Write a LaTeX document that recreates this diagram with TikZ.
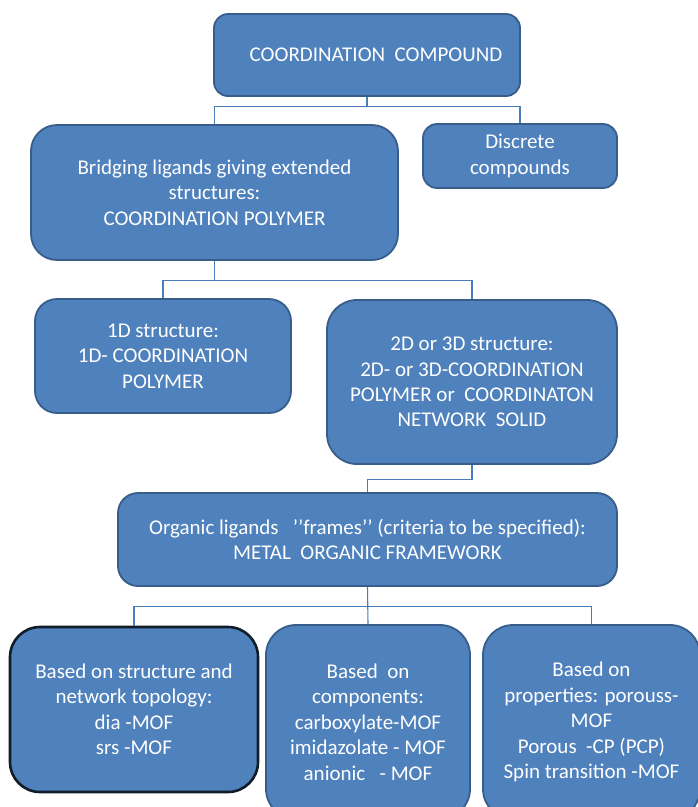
\documentclass[tikz,border=0pt]{standalone}
\usepackage{fontspec}
\setmainfont{Carlito}
\definecolor{boxfill}{HTML}{4F81BD}
\definecolor{boxline}{HTML}{385D8A}
\definecolor{conn}{HTML}{4A7EBB}
\begin{document}
\begin{tikzpicture}[x=1pt,y=-1pt,
  box/.style={draw=boxline, fill=boxfill, line width=1.8pt, text=white,
    align=center, inner sep=0pt, font=\fontsize{21}{25.5}\selectfont},
  conn/.style={draw=conn, line width=1.1pt}]
\clip (0,0) rectangle (698,807);
\fill[white] (0,0) rectangle (698,807);
\node[box, rounded corners=14pt, minimum width=306pt, minimum height=82pt] (b1) at (367,55)
  {\hspace*{18pt}COORDINATION\ \ COMPOUND};
\node[box, rounded corners=26pt, minimum width=367pt, minimum height=135pt] (b2) at (214.5,192.5)
  {Bridging ligands giving extended\\structures:\\COORDINATION POLYMER};
\node[box, rounded corners=14pt, minimum width=194pt, minimum height=64pt] (b3) at (520,156)
  {Discrete\\compounds};
\node[box, rounded corners=22pt, minimum width=256pt, minimum height=114pt] (b4) at (163,356)
  {1D structure:\\1D- COORDINATION\\POLYMER};
\node[box, rounded corners=30pt, minimum width=290pt, minimum height=164pt] (b5) at (472,382)
  {2D or 3D structure:\\2D- or 3D-COORDINATION\\POLYMER or\ \ COORDINATON\\NETWORK\ \ SOLID};
\node[box, rounded corners=20pt, minimum width=499pt, minimum height=93pt] (b6) at (367.5,539.5)
  {Organic ligands\ \ \ ’’frames’’ (criteria to be specified):\\METAL\ \ ORGANIC FRAMEWORK};
\node[box, draw=black!70!boxline, line width=2.6pt, rounded corners=30pt, minimum width=248pt, minimum height=165pt] (b7) at (134,709.5)
  {Based on structure and\\network topology:\\dia -MOF\\srs -MOF};
\node[box, rounded corners=30pt, minimum width=204pt, minimum height=194pt] (b8) at (368,722)
  {Based\ \ on\\components:\\carboxylate-MOF\\imidazolate - MOF\\anionic\ \ \ - MOF};
\node[box, rounded corners=30pt, minimum width=217pt, minimum height=194pt] (b9) at (591.5,722)
  {Based on\\properties: porouss-\\MOF\\Porous\ \ -CP (PCP)\\Spin transition -MOF};
\draw[conn] (b1.south) -- ++(0,10) coordinate (j1) -| (b2.north);
\draw[conn] (j1) -| (b3.north);
\draw[conn] (b2.south) -- ++(0,20) coordinate (j2) -| (b4.north);
\draw[conn] (j2) -| (b5.north);
\draw[conn] (b5.south) -- ++(0,15) -| (b6.north);
\draw[conn] (b6.south) -- ++(0,20) coordinate (j4) -| (b7.north);
\draw[conn] (j4) -| (b9.north);
\draw[conn] (b6.south) -- (b8.north);
\end{tikzpicture}
\end{document}
